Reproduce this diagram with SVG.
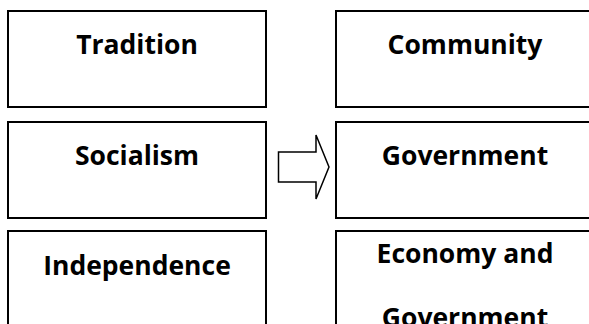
<svg xmlns="http://www.w3.org/2000/svg" width="589" height="324" viewBox="0 0 589 324">
<style>
.box{fill:#fff;stroke:#000;stroke-width:2}
.t{font-family:"Open Sans","Liberation Sans",sans-serif;font-weight:bold;font-size:26.5px;text-anchor:middle;fill:#000}
.arrow{fill:#fff;stroke:#000;stroke-width:1.5;stroke-linejoin:miter}
</style>
<rect width="589" height="324" fill="#fff"/>
<g id="tradition"><rect class="box" x="8" y="11" width="258" height="96"/><text class="t" x="137" y="54">Tradition</text></g>
<g id="socialism"><rect class="box" x="8" y="122" width="258" height="96"/><text class="t" x="137" y="165">Socialism</text></g>
<g id="independence"><rect class="box" x="8" y="231" width="258" height="96"/><text class="t" x="137" y="275">Independence</text></g>
<g id="community"><rect class="box" x="336" y="11" width="258" height="96"/><text class="t" x="465" y="54">Community</text></g>
<g id="government"><rect class="box" x="336" y="122" width="258" height="96"/><text class="t" x="465" y="165">Government</text></g>
<g id="economy"><rect class="box" x="336" y="231" width="258" height="96"/><text class="t" x="465" y="263">Economy and</text><text class="t" x="465" y="327">Government</text></g>
<g id="connectors"><polygon class="arrow" points="278.5,152 316,152 316,135 329,167 316,199 316,182 278.5,182"/></g>
</svg>
